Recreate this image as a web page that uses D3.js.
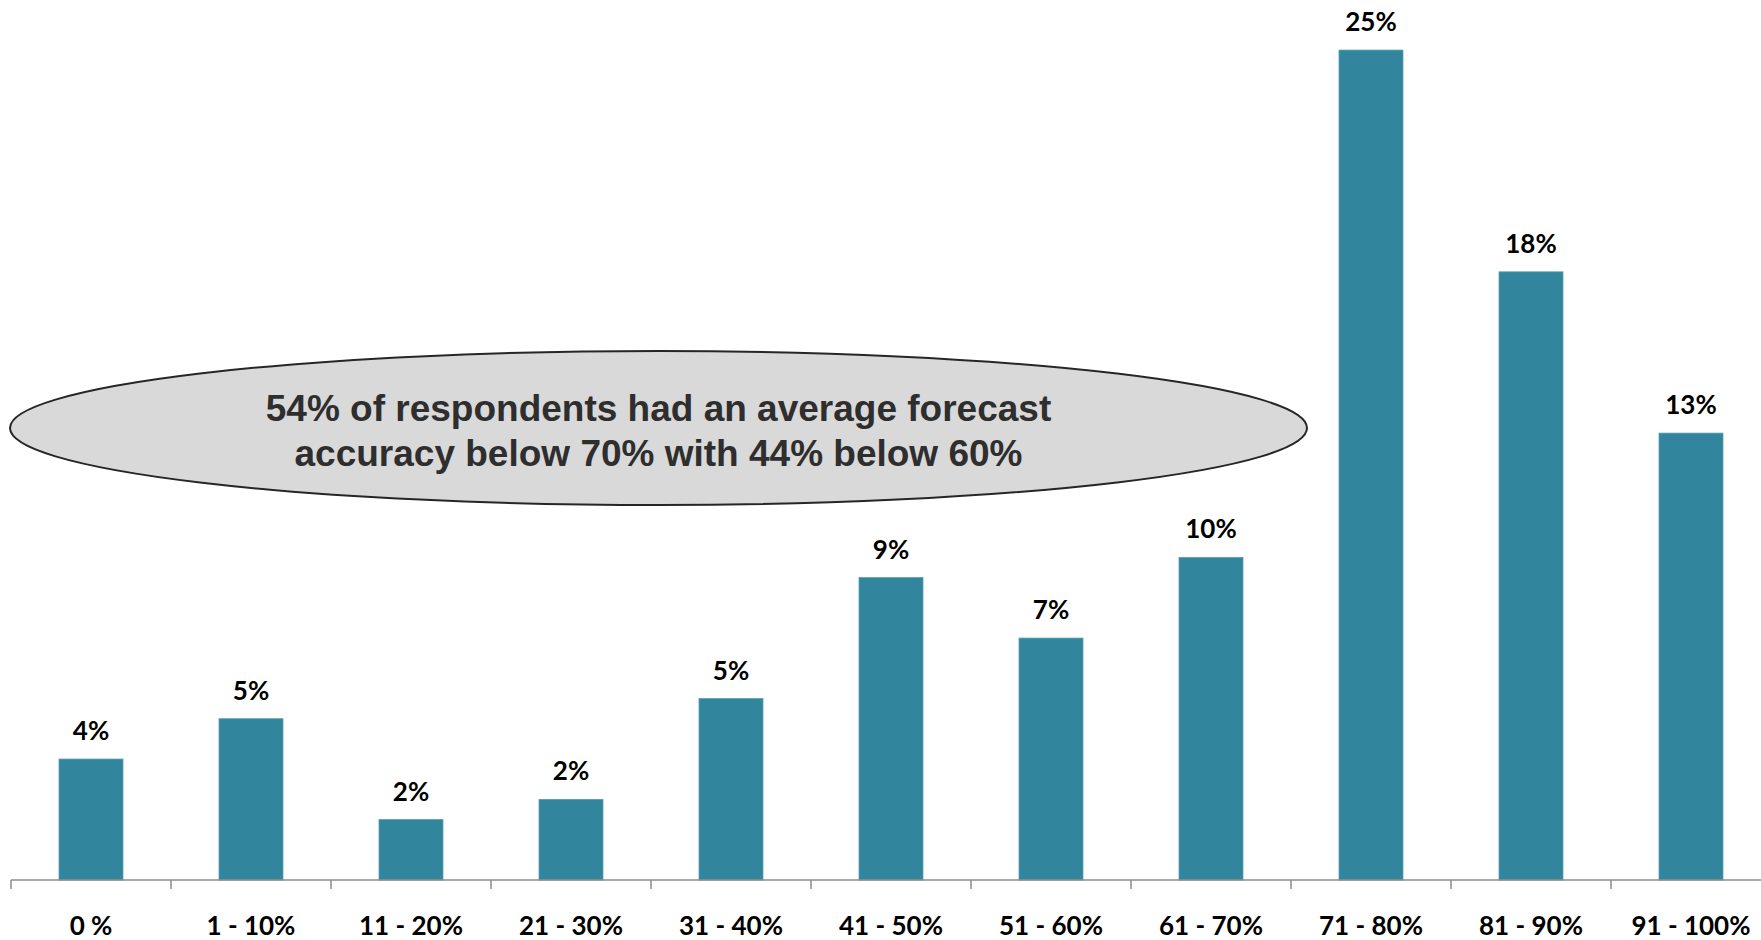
<!DOCTYPE html>
<html>
<head>
<meta charset="utf-8">
<script src="https://cdn.jsdelivr.net/npm/d3@7"></script>
<style>
  html, body { margin: 0; padding: 0; background: #fff; overflow: hidden; }
  svg { display: block; }
</style>
</head>
<body>
<svg id="chart" width="1761" height="940"></svg>
<script>
// Share of respondents by average forecast accuracy band (percent)
const categories = ["0 %", "1 - 10%", "11 - 20%", "21 - 30%", "31 - 40%", "41 - 50%",
                    "51 - 60%", "61 - 70%", "71 - 80%", "81 - 90%", "91 - 100%"];
const shares = [3.6, 4.8, 1.8, 2.4, 5.4, 9.0, 7.2, 9.6, 24.7, 18.1, 13.3];
const calloutLines = ["54% of respondents had an average forecast",
                      "accuracy below 70% with 44% below 60%"];

const W = 1761, H = 940;
const baseY = 880;
const svg = d3.select("#chart");

const x = d3.scaleBand()
  .domain(categories)
  .range([11, 1771])
  .paddingInner(0.6)
  .paddingOuter(0.3);

const y = d3.scaleLinear()
  .domain([0, 26.19])
  .range([baseY, 0]);

const data = categories.map((c, i) => ({ cat: c, v: shares[i] }));

// bars
svg.append("g").selectAll("rect")
  .data(data)
  .join("rect")
  .attr("x", d => x(d.cat))
  .attr("y", d => y(d.v))
  .attr("width", x.bandwidth())
  .attr("height", d => baseY - y(d.v))
  .attr("fill", "#31859C")
  .attr("stroke", "#5a9fb3")
  .attr("stroke-width", 0.8);

// value labels
svg.append("g").selectAll("text")
  .data(data)
  .join("text")
  .attr("x", d => x(d.cat) + x.bandwidth() / 2)
  .attr("y", d => y(d.v) - 19)
  .attr("text-anchor", "middle")
  .attr("font-family", "Lato, 'Open Sans', sans-serif")
  .attr("font-weight", "bold")
  .attr("font-size", 26)
  .attr("fill", "#000")
  .text(d => Math.round(d.v) + "%");

// category axis: baseline with ticks at band boundaries
const step = x.step();
const axis = svg.append("g");
axis.append("line")
  .attr("x1", x.range()[0]).attr("x2", x.range()[1])
  .attr("y1", baseY).attr("y2", baseY)
  .attr("stroke", "#8c8c8c").attr("stroke-width", 1.5);
const bounds = categories.map(c => x(c) - step * x.paddingInner() / 2)
  .concat([x(categories[categories.length - 1]) + x.bandwidth() + step * x.paddingInner() / 2]);
axis.selectAll("line.tick")
  .data(bounds)
  .join("line")
  .attr("class", "tick")
  .attr("x1", d => d).attr("x2", d => d)
  .attr("y1", baseY).attr("y2", baseY + 9)
  .attr("stroke", "#8c8c8c").attr("stroke-width", 1.5);
axis.selectAll("text")
  .data(categories)
  .join("text")
  .attr("x", d => x(d) + x.bandwidth() / 2)
  .attr("y", 935)
  .attr("text-anchor", "middle")
  .attr("font-family", "Lato, 'Open Sans', sans-serif")
  .attr("font-weight", "bold")
  .attr("font-size", 26)
  .attr("fill", "#000")
  .text(d => d);

// callout ellipse
const callout = svg.append("g");
callout.append("ellipse")
  .attr("cx", 658.5).attr("cy", 428)
  .attr("rx", 648.5).attr("ry", 77)
  .attr("fill", "#d9d9d9")
  .attr("stroke", "#262626")
  .attr("stroke-width", 2);
callout.selectAll("text")
  .data(calloutLines)
  .join("text")
  .attr("x", 658.5)
  .attr("y", (d, i) => 421 + i * 45)
  .attr("text-anchor", "middle")
  .attr("font-family", "'Liberation Sans', Arial, sans-serif")
  .attr("font-weight", "bold")
  .attr("font-size", 37)
  .attr("fill", "#2e2e2e")
  .text(d => d);
</script>
</body>
</html>
